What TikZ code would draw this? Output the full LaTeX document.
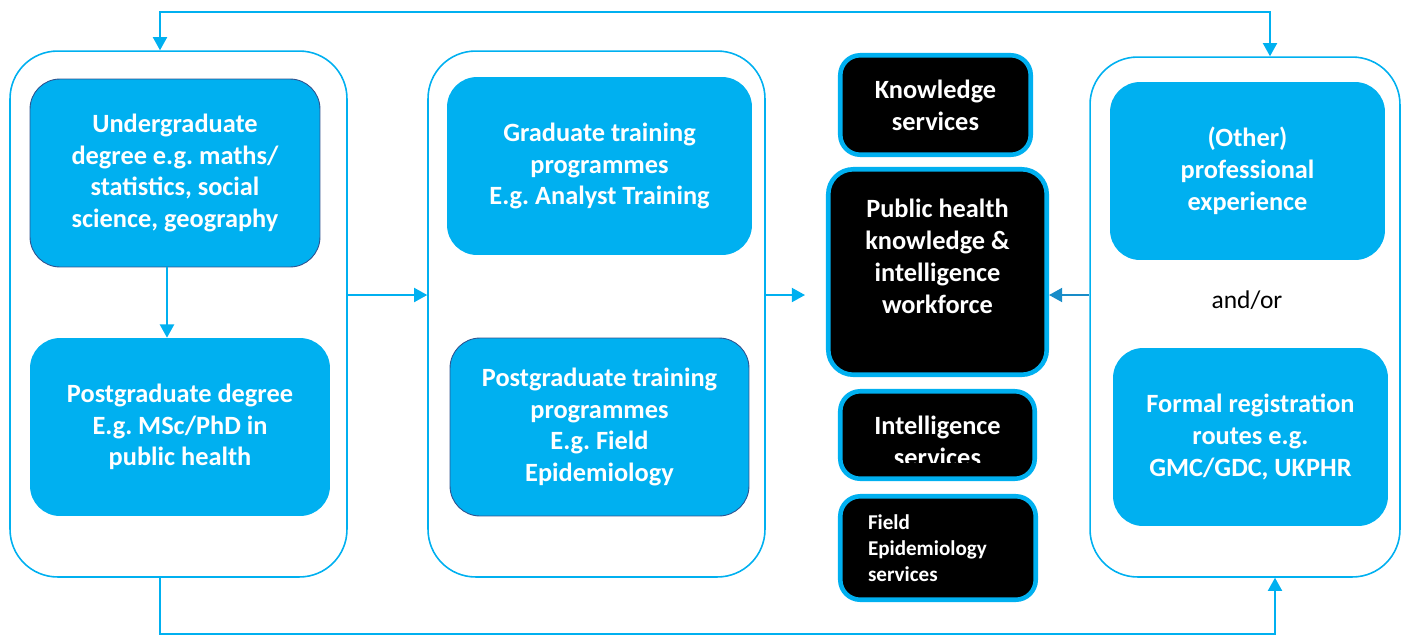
\documentclass[tikz,border=0pt]{standalone}
\usepackage{fontspec}
\setmainfont{Carlito}
\usetikzlibrary{arrows.meta,positioning,calc}
\definecolor{phCyan} {RGB}{0,  176, 240}
\definecolor{phEdge} {RGB}{47, 82,  143}
\definecolor{phArrow}{RGB}{24, 140, 200}
\frenchspacing

\begin{document}
\begin{tikzpicture}[x=0.02cm,y=-0.02cm,
    stage/.style={draw=phCyan,line width=0.9pt,rounded corners=0.95cm,
                  minimum width=6.74cm,minimum height=10.52cm},
    course/.style={fill=phCyan,text=white,align=center,rounded corners=0.6cm,
                   font=\bfseries\fontsize{15}{18.1}\selectfont,
                   minimum width=5.9cm,minimum height=3.56cm},
    edged/.style={draw=phEdge,line width=0.5pt},
    service/.style={fill=black,draw=phCyan,line width=2.6pt,text=white,align=center,
                    rounded corners=0.4cm,font=\bfseries\fontsize{15}{18.1}\selectfont},
    link/.style={draw=phCyan,line width=1.1pt},
    tip/.style={-{Triangle[length=7.5pt,width=8pt]}}]

    \useasboundingbox (0,0) rectangle (1410,637);

    % ─── Rotas de formacao (caixas externas) ─────────────
    \node[stage] (degrees)  at (178.5,314) {};
    \node[stage] (training) at (596.5,314) {};
    \node[stage,minimum width=6.2cm,minimum height=10.4cm] (routes) at (1245,317) {};

    % ─── Graduacao e pos-graduacao ───────────────────────
    \node[course,edged,minimum width=5.8cm,minimum height=3.76cm] (ugrad) at (175,173)
      {Undergraduate\\degree e.g. maths/\\statistics, social\\science, geography};
    \node[course,minimum width=6.0cm] (pgrad) at (180,427)
      {Postgraduate degree\\E.g. MSc/PhD in\\public health};

    % ─── Programas de treinamento ────────────────────────
    \node[course,minimum width=6.1cm] (gradprog) at (599.5,166)
      {Graduate training\\programmes\\E.g. Analyst Training};
    \node[course,edged,minimum width=5.98cm] (pgprog) at (599.5,427)
      {Postgraduate training\\programmes\\E.g. Field\\Epidemiology};

    % ─── Forca de trabalho e servicos ────────────────────
    \node[service,minimum width=3.81cm,minimum height=1.99cm] (knowserv) at (935.5,105)
      {Knowledge\\services};
    \node[service,rounded corners=0.5cm,minimum width=4.37cm,minimum height=4.11cm] (workforce) at (937.5,272)
      {Public health\\knowledge \&\\intelligence\\workforce\\~};
    \node[service,minimum width=3.89cm,minimum height=1.75cm] (intserv) at (937.5,435) {};
    \begin{scope}
      \clip (838,389) rectangle (1037,462);
      \node[text=white,align=center,font=\bfseries\fontsize{15}{18.1}\selectfont] (inttext) at (937.5,441)
        {Intelligence\\services};
    \end{scope}
    \node[service,align=left,text width=2.8cm,font=\bfseries\fontsize{12}{14.7}\selectfont,
          minimum width=3.91cm,minimum height=2.07cm] (fieldserv) at (938,548)
      {Field\\Epidemiology\\services};

    % ─── Experiencia e registro ──────────────────────────
    \node[course,minimum width=5.5cm] (profexp) at (1247.5,171)
      {(Other)\\professional\\experience};
    \node[font=\fontsize{14.5}{17}\selectfont] (andor) at (1247,300) {and/or};
    \node[course,minimum width=5.5cm] (formreg) at (1250.5,437)
      {Formal registration\\routes e.g.\\GMC/GDC, UKPHR};

    % ─── Setas ───────────────────────────────────────────
    \coordinate (midrow) at (0,295);
    \coordinate (topL) at (160,12);
    \coordinate (topR) at (1270,12);
    \coordinate (botL) at (160,634);
    \coordinate (botR) at (1275,634);

    \draw[link,tip] (ugrad.south -| 167,0) -- (pgrad.north -| 167,0);
    \draw[link,tip] (degrees.east |- midrow) -- (training.west |- midrow);
    \draw[link,tip,shorten >=0.42cm] (training.east |- midrow) -- (workforce.west |- midrow);
    \draw[link,draw=phArrow,tip] (routes.west |- midrow) -- (workforce.east |- midrow);
    \draw[link,{Triangle[length=7.5pt,width=8pt]}-{Triangle[length=7.5pt,width=8pt]}]
      (degrees.north -| topL) -- (topL) -- (topR) -- (routes.north -| topR);
    \draw[link,tip] (degrees.south -| botL) -- (botL) -- (botR) -- (routes.south -| botR);

\end{tikzpicture}
\end{document}
